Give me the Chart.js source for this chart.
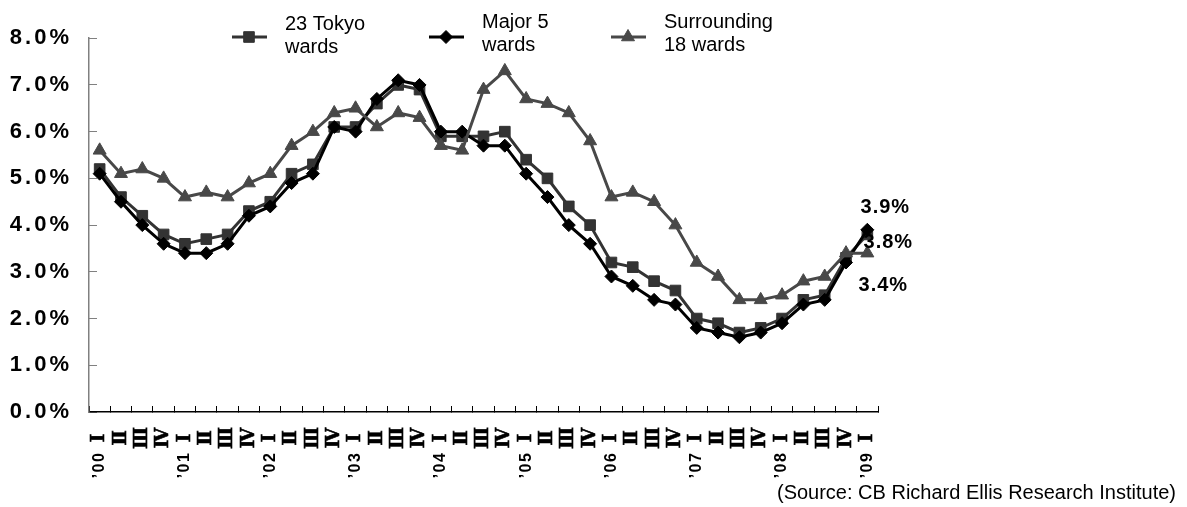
<!DOCTYPE html>
<html>
<head>
<meta charset="utf-8">
<script src="https://cdn.jsdelivr.net/npm/chart.js@4.4.0/dist/chart.umd.min.js"></script>
<style>
  html, body { margin: 0; padding: 0; background: #fff; }
  #chart { display: block; }
</style>
</head>
<body>
<canvas id="chart" width="1187" height="507"></canvas>
<script>
// Quarters from '00 I to '09 I
const quarterLabels = [
  'Ⅰ', 'Ⅱ', 'Ⅲ', 'Ⅳ', 'Ⅰ', 'Ⅱ', 'Ⅲ', 'Ⅳ', 'Ⅰ', 'Ⅱ', 'Ⅲ', 'Ⅳ',
  'Ⅰ', 'Ⅱ', 'Ⅲ', 'Ⅳ', 'Ⅰ', 'Ⅱ', 'Ⅲ', 'Ⅳ', 'Ⅰ', 'Ⅱ', 'Ⅲ', 'Ⅳ',
  'Ⅰ', 'Ⅱ', 'Ⅲ', 'Ⅳ', 'Ⅰ', 'Ⅱ', 'Ⅲ', 'Ⅳ', 'Ⅰ', 'Ⅱ', 'Ⅲ', 'Ⅳ', 'Ⅰ'
];
const yearLabels = [
  '’00', '', '', '', '’01', '', '', '', '’02', '', '', '',
  '’03', '', '', '', '’04', '', '', '', '’05', '', '', '',
  '’06', '', '', '', '’07', '', '', '', '’08', '', '', '', '’09'
];

// Vacancy rate, %
const tokyo23 = [
  5.2, 4.6, 4.2, 3.8, 3.6, 3.7, 3.8, 4.3, 4.5, 5.1, 5.3, 6.1,
  6.1, 6.6, 7.0, 6.9, 5.9, 5.9, 5.9, 6.0, 5.4, 5.0, 4.4, 4.0,
  3.2, 3.1, 2.8, 2.6, 2.0, 1.9, 1.7, 1.8, 2.0, 2.4, 2.5, 3.3, 3.8
];
const major5 = [
  5.1, 4.5, 4.0, 3.6, 3.4, 3.4, 3.6, 4.2, 4.4, 4.9, 5.1, 6.1,
  6.0, 6.7, 7.1, 7.0, 6.0, 6.0, 5.7, 5.7, 5.1, 4.6, 4.0, 3.6,
  2.9, 2.7, 2.4, 2.3, 1.8, 1.7, 1.6, 1.7, 1.9, 2.3, 2.4, 3.2, 3.9
];
const surrounding18 = [
  5.6, 5.1, 5.2, 5.0, 4.6, 4.7, 4.6, 4.9, 5.1, 5.7, 6.0, 6.4,
  6.5, 6.1, 6.4, 6.3, 5.7, 5.6, 6.9, 7.3, 6.7, 6.6, 6.4, 5.8,
  4.6, 4.7, 4.5, 4.0, 3.2, 2.9, 2.4, 2.4, 2.5, 2.8, 2.9, 3.4, 3.4
];

const seriesNames = [['23 Tokyo', 'wards'], ['Major 5', 'wards'], ['Surrounding', '18 wards']];
const yTicks = [0, 1, 2, 3, 4, 5, 6, 7, 8];
const sourceNote = '(Source: CB Richard Ellis Research Institute)';

// Draw text turned 90° so it reads bottom to top
function drawUpright(ctx, text, x, y, font, spacing, thicken) {
  ctx.save();
  ctx.translate(x, y);
  ctx.rotate(-Math.PI / 2);
  ctx.font = font;
  ctx.letterSpacing = spacing;
  ctx.textAlign = 'center';
  ctx.textBaseline = 'middle';
  ctx.fillText(text, 0, 0);
  if (thicken) {
    ctx.strokeStyle = ctx.fillStyle;
    ctx.lineWidth = thicken;
    ctx.strokeText(text, 0, 0);
  }
  ctx.restore();
}

const chartText = {
  id: 'chartText',
  afterDatasetsDraw(chart) {
    // y tick labels are drawn after this (ticks.z = 1), give them wider spacing
    chart.ctx.letterSpacing = '3px';
  },
  afterDraw(chart) {
    const ctx = chart.ctx;
    const xScale = chart.scales.x;
    ctx.save();
    ctx.fillStyle = '#000';

    // quarter numerals and years below the axis
    quarterLabels.forEach((q, i) => {
      const px = xScale.getPixelForValue(i);
      drawUpright(ctx, q, px, 438, 'bold 18px "DejaVu Serif"', '0px', 0.6);
      if (yearLabels[i]) {
        drawUpright(ctx, yearLabels[i], px, 465, 'bold 16px "Liberation Sans"', '1.5px', 0);
      }
    });

    // values at the last quarter
    const shift = [[21, 8], [18, -22], [16, 32]];
    ctx.font = 'bold 20px "Liberation Sans"';
    ctx.letterSpacing = '1px';
    ctx.textAlign = 'center';
    ctx.textBaseline = 'middle';
    chart.data.datasets.forEach((ds, d) => {
      const meta = chart.getDatasetMeta(d);
      const last = ds.data.length - 1;
      const pt = meta.data[last];
      ctx.fillText(ds.data[last].toFixed(1) + '%', pt.x + shift[d][0], pt.y + shift[d][1]);
    });

    // legend
    const starts = [232, 429, 611];
    const textTop = [30, 28, 28];
    ctx.font = '20px "Liberation Sans"';
    ctx.letterSpacing = '0px';
    ctx.textAlign = 'left';
    ctx.textBaseline = 'alphabetic';
    chart.data.datasets.forEach((ds, d) => {
      const x0 = starts[d];
      ctx.strokeStyle = ds.borderColor;
      ctx.lineWidth = 3;
      ctx.beginPath();
      ctx.moveTo(x0, 37);
      ctx.lineTo(x0 + 35, 37);
      ctx.stroke();
      ctx.fillStyle = ds.backgroundColor;
      ctx.lineWidth = 1;
      Chart.helpers.drawPoint(ctx, {
        pointStyle: ds.pointStyle, radius: ds.pointRadius, rotation: 0, borderWidth: 1
      }, x0 + 17, 37);
      ctx.fillStyle = '#000';
      ctx.fillText(seriesNames[d][0], x0 + 53, textTop[d]);
      ctx.fillText(seriesNames[d][1], x0 + 53, textTop[d] + 23);
    });

    // source note
    ctx.font = '20px "Liberation Sans"';
    ctx.textAlign = 'right';
    ctx.textBaseline = 'middle';
    ctx.fillText(sourceNote, 1176, 493);

    ctx.restore();
    ctx.letterSpacing = '0px';
  }
};

new Chart(document.getElementById('chart'), {
  type: 'line',
  data: {
    labels: quarterLabels,
    datasets: [
      {
        label: seriesNames[0].join(' '),
        data: tokyo23,
        borderColor: '#333333',
        backgroundColor: '#333333',
        pointStyle: 'rect',
        pointRadius: 7.5,
        order: 3
      },
      {
        label: seriesNames[1].join(' '),
        data: major5,
        borderColor: '#000000',
        backgroundColor: '#000000',
        pointStyle: 'rectRot',
        pointRadius: 6.5,
        order: 2
      },
      {
        label: seriesNames[2].join(' '),
        data: surrounding18,
        borderColor: '#484848',
        backgroundColor: '#484848',
        pointStyle: 'triangle',
        pointRadius: 7.5,
        order: 1
      }
    ]
  },
  options: {
    responsive: false,
    animation: false,
    layout: { padding: { top: 33, right: 309, bottom: 0, left: 0 } },
    elements: {
      line: { borderWidth: 3, tension: 0 },
      point: { borderWidth: 1, hoverRadius: 7.5 }
    },
    plugins: {
      legend: { display: false },
      tooltip: { enabled: false }
    },
    scales: {
      x: {
        offset: true,
        grid: { offset: true, drawOnChartArea: false, tickLength: -6, color: '#000' },
        border: { color: '#000', width: 1.5 },
        ticks: { display: false, autoSkip: false },
        afterFit(scale) { scale.height = 95; }
      },
      y: {
        min: 0,
        max: 8,
        grid: { drawOnChartArea: false, tickLength: -8, color: '#808080' },
        border: { color: '#808080', width: 1.5 },
        afterBuildTicks(scale) { scale.ticks = yTicks.map(v => ({ value: v })); },
        ticks: {
          padding: 25,
          z: 1,
          color: '#000',
          font: { family: 'Liberation Sans', size: 22, weight: 'bold' },
          callback: v => v.toFixed(1) + '%'
        },
        afterFit(scale) { scale.width = 89; }
      }
    }
  },
  plugins: [chartText]
});
</script>
</body>
</html>
